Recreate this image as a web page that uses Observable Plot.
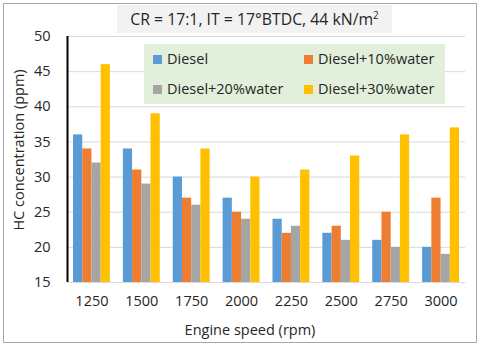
<!DOCTYPE html>
<html><head><meta charset="utf-8">
<script src="https://cdn.jsdelivr.net/npm/d3@7"></script>
<script src="https://cdn.jsdelivr.net/npm/@observablehq/plot@0.6"></script>
<style>
body{margin:0;background:#fff;font-family:"Open Sans",sans-serif;color:#262626}
#wrap{position:relative;width:480px;height:346px;overflow:hidden}
#border{position:absolute;left:3px;top:3px;width:472px;height:338px;border:1px solid #a6a6a6;pointer-events:none}
#title{position:absolute;left:117px;top:5px;width:275px;height:28px;background:#f2f2f2;font-size:15.8px;line-height:28px;text-align:center;white-space:nowrap}
#legend{position:absolute;left:144px;top:44px;width:301px;height:60px;background:#e2efda;font-size:14.5px}
.li{position:absolute;white-space:nowrap;line-height:18px}
.sw{display:inline-block;width:9px;height:9px;margin-right:5px;vertical-align:0px}
#ylab{position:absolute;left:18px;top:150px;transform:translate(-50%,-50%) rotate(-90deg);font-size:14.5px;white-space:nowrap}
#xlab{position:absolute;left:250px;top:329px;transform:translate(-50%,-50%);font-size:14.5px;white-space:nowrap}
</style></head>
<body>
<div id="wrap">
<div id="chart"></div>
<div id="title"></div>
<div id="legend"></div>
<div id="ylab"></div>
<div id="xlab"></div>
<div id="border"></div>
</div>
<script>
const titleText = "CR = 17:1, IT = 17°BTDC, 44 kN/m²";
const xTitle = "Engine speed (rpm)";
const yTitle = "HC concentration (ppm)";
const speeds = ["1250","1500","1750","2000","2250","2500","2750","3000"];
const series = ["Diesel","Diesel+10%water","Diesel+20%water","Diesel+30%water"];
const diesel  = [36,34,30,27,24,22,21,20];
const water10 = [34,31,27,25,22,23,25,27];
const water20 = [32,29,26,24,23,21,20,19];
const water30 = [46,39,34,30,31,33,36,37];
const yTicks = [15,20,25,30,35,40,45,50];
const colors = ["#5b9bd5","#ed7d31","#a5a5a5","#ffc000"];

const values = [diesel, water10, water20, water30];
const rows = [];
series.forEach((s,i)=>speeds.forEach((sp,j)=>rows.push({series:s, speed:sp, value:values[i][j]})));

const W=480,H=346,ml=67,mr=15,mt=36,mb=64;
const pIn=0.26,pOut=0.12;
const band = d3.scaleBand().domain(speeds).range([ml,W-mr]).paddingInner(pIn).paddingOuter(pOut);
const bw = band.bandwidth();
const bar = bw/4;
const yMin = yTicks[0], yMax = yTicks[yTicks.length-1];

const marks = [
  Plot.gridY(yTicks,{stroke:"#d9d9d9",strokeOpacity:1,strokeWidth:1}),
];
series.forEach((s,i)=>{
  marks.push(Plot.barY(rows.filter(d=>d.series===s),{x:"speed",y1:yMin,y2:"value",fill:colors[i],insetLeft:i*bar,insetRight:(3-i)*bar}));
});
marks.push(Plot.ruleX([speeds[0]],{y1:yMin,y2:yMax,stroke:"#000",strokeWidth:2,dx:-(bw/2+band.step()*pOut)}));
marks.push(Plot.axisY(yTicks,{tickSize:0,tickPadding:17,label:null,fontSize:14.5}));
marks.push(Plot.axisX({tickSize:0,tickPadding:13,label:null,fontSize:14.5}));

const chart = Plot.plot({
  width:W,height:H,marginLeft:ml,marginRight:mr,marginTop:mt,marginBottom:mb,
  style:{fontFamily:"Open Sans",fontSize:"14px",color:"#262626",background:"transparent"},
  x:{type:"band",domain:speeds,paddingInner:pIn,paddingOuter:pOut,round:false,align:0.5},
  y:{domain:[yMin,yMax]},
  marks
});
document.getElementById("chart").appendChild(chart);
document.getElementById("title").innerHTML = titleText.replace("²","<sup style='font-size:10px;line-height:0'>2</sup>");
document.getElementById("xlab").textContent = xTitle;
document.getElementById("ylab").textContent = yTitle;
const leg = document.getElementById("legend");
const pos = [[9,6],[160,6],[9,36],[160,36]];
series.forEach((s,i)=>{
  const d=document.createElement("div");d.className="li";
  d.style.left=pos[i][0]+"px";d.style.top=pos[i][1]+"px";
  d.innerHTML=`<span class="sw" style="background:${colors[i]}"></span>${s}`;
  leg.appendChild(d);
});
</script>
</body></html>
